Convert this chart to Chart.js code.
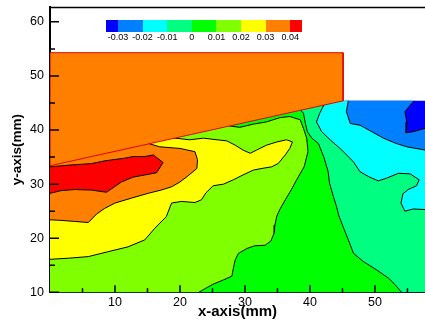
<!DOCTYPE html>
<html>
<head>
<meta charset="utf-8">
<style>
  html, body { margin: 0; padding: 0; background: #fff; }
  #wrap { width: 425px; height: 321px; }
</style>
<script src="https://cdn.jsdelivr.net/npm/chart.js@4.4.1/dist/chart.umd.min.js"></script>
</head>
<body>
<div id="wrap"><canvas id="contour_chart"></canvas></div>
<script>
// axis ticks
var xTicks = [10, 20, 30, 40, 50];
var xMinorTicks = [5, 15, 25, 35, 45, 55];
var yTicks = [10, 20, 30, 40, 50, 60];
var yMinorTicks = [15, 25, 35, 45, 55];

// colour levels (legend)
var levelLabels = ['-0.03', '-0.02', '-0.01', '0', '0.01', '0.02', '0.03', '0.04'];
var levelColors = ['#0000ff', '#0080ff', '#00ffff', '#00ff80', '#00ff00', '#80ff00', '#ffff00', '#ff8000', '#ff0000'];

// contour lines, x/y in mm (low level -> high level)
var azureX = [56.0, 54.6, 54.9, 54.8, 55.9, 57.7, 60];
var azureY = [45.4, 43.4, 41.5, 39.5, 39.7, 40.3, 40.7];
var cyanX = [45.9, 45.6, 46.2, 47.7, 49.5, 51.3, 53.3, 54.9, 57.7, 60];
var cyanY = [45.4, 43.4, 41.2, 40.9, 39.7, 38.5, 37.5, 36.9, 36.3, 36.2];
var springX = [42.3, 41.5, 41.0, 41.8, 43.1, 44.9, 46.7, 47.7, 49.0, 50.5, 51.8, 53.6, 55.4, 56.8, 56.4, 55.1, 54.3, 54.0, 54.6, 55.9, 57.7, 60];
var springY = [45.0, 43.1, 41.5, 39.7, 38.2, 36.3, 34.1, 32.3, 31.4, 30.6, 31.1, 32.0, 31.9, 30.8, 29.7, 29.0, 28.2, 26.5, 25.0, 25.4, 25.3, 25.3];
var greenX = [38.3, 39.0, 39.3, 39.6, 40.3, 41.3, 42.1, 42.8, 43.0, 43.6, 44.1, 44.4, 45.1, 45.9, 46.7, 48.2, 50.3, 52.1, 53.1, 54.1];
var greenY = [44.0, 43.1, 41.2, 39.7, 38.5, 37.5, 35.1, 32.3, 30.2, 27.7, 25.8, 24.3, 22.1, 19.7, 17.2, 15.7, 14.1, 12.6, 11.4, 10.0];
var limeX = [26.8, 29.2, 31.3, 33.3, 35.4, 36.9, 38.5, 39.0, 39.5, 39.7, 39.1, 38.0, 37.1, 36.2, 35.4, 34.9, 34.6, 34.5, 34.0, 33.1, 31.5, 30.3, 29.0, 28.5, 28.2, 28.0, 26.7, 25.1, 23.9, 22.9];
var limeY = [40.9, 40.5, 41.1, 41.5, 42.3, 42.5, 41.9, 40.3, 38.5, 36.0, 33.2, 30.9, 28.9, 27.1, 25.4, 24.1, 22.4, 21.0, 19.5, 18.7, 18.6, 18.1, 17.2, 16.0, 14.4, 13.0, 12.3, 11.5, 10.7, 10.0];
var yellowX = [18.5, 21.5, 23.6, 25.7, 27.2, 28.5, 29.7, 30.8, 31.8, 33.3, 34.9, 36.4, 37.3, 36.9, 36.2, 35.1, 34.1, 32.6, 31.3, 29.7, 28.2, 26.7, 25.1, 24.0, 23.3, 22.3, 20.2, 18.7, 17.9, 16.1, 14.6, 12.0, 8.9, 5.9, 2.8, 0];
var yellowY = [38.6, 38.2, 38.5, 38.2, 38.0, 37.2, 36.3, 35.7, 36.3, 37.2, 37.8, 38.2, 37.8, 36.6, 35.4, 33.8, 33.2, 32.9, 32.6, 31.7, 30.8, 30.0, 29.7, 28.4, 27.1, 26.6, 26.8, 26.5, 24.0, 21.8, 19.7, 18.4, 17.5, 16.6, 16.3, 16.1];
var orangeX = [14.9, 16.9, 20.0, 22.3, 22.7, 22.6, 21.1, 20.0, 18.7, 17.1, 15.1, 12.5, 10.0, 8.4, 7.2, 5.9, 3.8, 1.7, 0];
var orangeY = [37.6, 36.9, 36.6, 36.0, 34.5, 32.9, 31.4, 30.4, 29.5, 28.9, 28.3, 27.4, 26.5, 25.5, 24.5, 22.9, 23.1, 23.3, 23.4];
var redX = [0, 2.8, 6.4, 8.4, 11.5, 12.8, 14.6, 15.9, 17.4, 16.4, 14.6, 12.8, 11.0, 8.7, 6.4, 3.8, 1.7, 0];
var redY = [33.2, 33.5, 33.8, 34.3, 34.8, 35.1, 35.1, 35.4, 34.0, 32.1, 31.7, 31.3, 30.4, 28.5, 28.9, 29.0, 28.8, 28.3];

// the solid piece on top
var wedgeX = [0, 45.1, 45.1, 0];
var wedgeY = [54.3, 54.3, 45.4, 33.4];

// field edges
var fieldLeft = 0, fieldRight = 60, fieldBottom = 10, fieldTop = 45.4, hiddenTop = 50, wedgeRight = 45;

var contours = [[azureX, azureY], [cyanX, cyanY], [springX, springY], [greenX, greenY],
                [limeX, limeY], [yellowX, yellowY], [orangeX, orangeY], [redX, redY]];

Chart.defaults.font.family = "'Liberation Sans', Arial, Helvetica, sans-serif";
Chart.defaults.color = '#000';

function toPoints(xs, ys) {
    return xs.map(function (x, i) { return {x: x, y: ys[i]}; });
}

// area above a level: the contour line closed along the field edge
function levelShape(xs, ys) {
    var p = toPoints(xs, ys);
    var start = p[0], end = p[p.length - 1];
    if (end.x >= fieldRight) p.push({x: fieldRight, y: fieldBottom});
    if (end.x > fieldLeft) p.push({x: fieldLeft, y: fieldBottom});
    if (start.x > fieldLeft) {
        p.push({x: fieldLeft, y: hiddenTop});
        if (start.x > wedgeRight && start.y >= fieldTop) {
            p.push({x: wedgeRight, y: hiddenTop});
            p.push({x: wedgeRight, y: fieldTop});
        } else {
            p.push({x: start.x, y: hiddenTop});
        }
    }
    return p;
}

function fieldShape() {
    return [{x: fieldLeft, y: fieldBottom}, {x: fieldRight, y: fieldBottom}, {x: fieldRight, y: fieldTop},
            {x: wedgeRight, y: fieldTop}, {x: wedgeRight, y: hiddenTop}, {x: fieldLeft, y: hiddenTop}];
}

var datasets = [];
datasets.push({data: fieldShape(), backgroundColor: levelColors[0], borderColor: 'rgba(0,0,0,0)',
    fill: 'shape', order: 100});
contours.forEach(function (c, i) {
    datasets.push({data: levelShape(c[0], c[1]), backgroundColor: levelColors[i + 1],
        borderColor: 'rgba(0,0,0,0)', fill: 'shape', order: 99 - i});
});
contours.forEach(function (c) {
    datasets.push({data: toPoints(c[0], c[1]), borderColor: '#000', borderWidth: 1, fill: false, order: 2});
});
datasets.push({data: toPoints(wedgeX, wedgeY).concat([{x: wedgeX[0], y: wedgeY[0]}]),
    backgroundColor: '#ff8000', borderColor: '#e00000', borderWidth: 1, fill: 'shape', order: 1});

var inwardTicks = {
    id: 'inwardTicks',
    afterDatasetsDraw: function (chart) {
        var ctx = chart.ctx, a = chart.chartArea, sx = chart.scales.x, sy = chart.scales.y;
        ctx.save();
        ctx.strokeStyle = '#000';
        ctx.lineWidth = 1.5;
        ctx.beginPath();
        xTicks.forEach(function (v) { var p = sx.getPixelForValue(v); ctx.moveTo(p, a.bottom); ctx.lineTo(p, a.bottom - 7); });
        xMinorTicks.forEach(function (v) { var p = sx.getPixelForValue(v); ctx.moveTo(p, a.bottom); ctx.lineTo(p, a.bottom - 4); });
        yTicks.forEach(function (v) { var p = sy.getPixelForValue(v); ctx.moveTo(a.left, p); ctx.lineTo(a.left + 9, p); });
        yMinorTicks.forEach(function (v) { var p = sy.getPixelForValue(v); ctx.moveTo(a.left, p); ctx.lineTo(a.left + 5, p); });
        ctx.stroke();
        ctx.beginPath();
        ctx.moveTo(a.left, a.top + 0.5);
        ctx.lineTo(a.right, a.top + 0.5);
        ctx.stroke();
        ctx.restore();
    }
};

var colorBar = {
    id: 'colorBar',
    afterDraw: function (chart) {
        var ctx = chart.ctx, a = chart.chartArea;
        var x0 = a.left + 56, top = 20, h = 12, bin = 24.6, edge = 12;
        ctx.save();
        var x = x0;
        levelColors.forEach(function (c, i) {
            var w = (i === 0 || i === levelColors.length - 1) ? edge : bin;
            ctx.fillStyle = c;
            ctx.fillRect(Math.round(x), top, Math.round(x + w) - Math.round(x), h);
            x += w;
        });
        ctx.font = "9px 'Liberation Sans', Arial, sans-serif";
        ctx.textAlign = 'center';
        ctx.textBaseline = 'middle';
        ctx.fillStyle = '#000';
        levelLabels.forEach(function (t, i) { ctx.fillText(t, x0 + edge + i * bin, 38); });
        ctx.restore();
    }
};

new Chart(document.getElementById('contour_chart').getContext('2d'), {
    type: 'line',
    data: {datasets: datasets},
    options: {
        responsive: true,
        maintainAspectRatio: false,
        animation: false,
        layout: {padding: {top: 7, right: 0, left: 0, bottom: 0}},
        elements: {point: {radius: 0}, line: {tension: 0}},
        plugins: {legend: {display: false}, tooltip: {enabled: false}},
        scales: {
            x: {
                type: 'linear', min: 0, max: 57.7, z: 1,
                grid: {display: false, drawTicks: false},
                border: {display: true, width: 2, color: '#000'},
                afterBuildTicks: function (s) { s.ticks = xTicks.map(function (v) { return {value: v}; }); },
                afterFit: function (s) { s.height = 28.7; s.paddingLeft = 0; s.paddingRight = 0; },
                ticks: {font: {size: 12.5}, padding: 3, maxRotation: 0},
                title: {display: true, text: 'x-axis(mm)', font: {size: 15, weight: 'bold'}, padding: {top: 0, bottom: 0}}
            },
            y: {
                type: 'linear', min: 10, max: 62.75, z: 1,
                grid: {display: false, drawTicks: false},
                border: {display: true, width: 2, color: '#000'},
                afterBuildTicks: function (s) { s.ticks = yTicks.map(function (v) { return {value: v}; }); },
                afterFit: function (s) { s.width = 50; s.paddingTop = 0; s.paddingBottom = 0; },
                ticks: {font: {size: 12.5}, padding: 6},
                title: {display: true, text: 'y-axis(mm)', font: {size: 13.5, weight: 'bold'}, padding: {top: 9, bottom: 0}}
            }
        }
    },
    plugins: [inwardTicks, colorBar]
});
</script>
</body>
</html>
